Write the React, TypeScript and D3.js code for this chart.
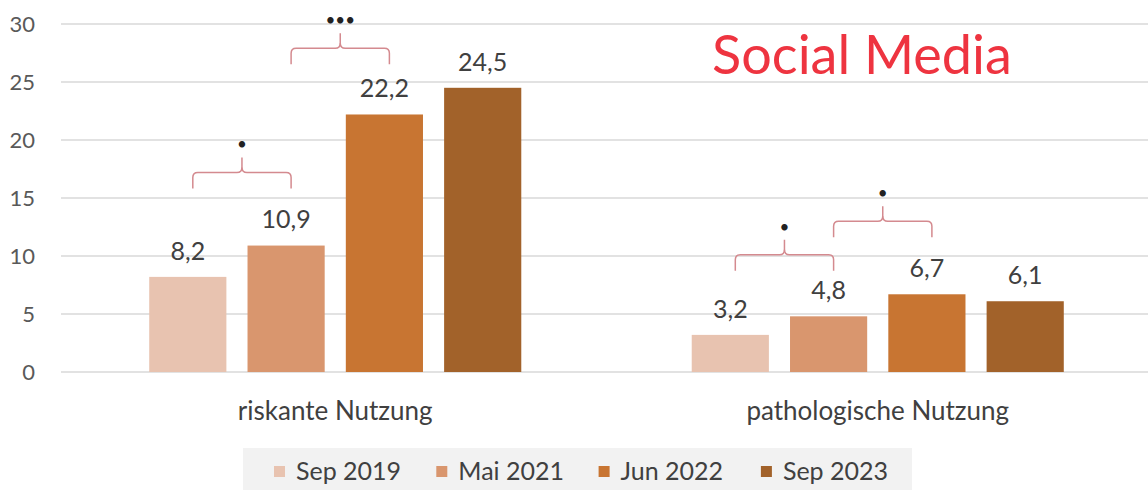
import React from "react";
import * as d3 from "d3";

const categories = ["riskante Nutzung", "pathologische Nutzung"];
const seriesNames = ["Sep 2019", "Mai 2021", "Jun 2022", "Sep 2023"];
const seriesColors = ["#E8C3B0", "#D9966E", "#C87532", "#A2622A"];
const values = [
  [8.2, 10.9, 22.2, 24.5],
  [3.2, 4.8, 6.7, 6.1],
];
const valueLabels = [
  ["8,2", "10,9", "22,2", "24,5"],
  ["3,2", "4,8", "6,7", "6,1"],
];
const yTicks = [0, 5, 10, 15, 20, 25, 30];
// significance brackets: category index, from series, to series, level (value units), label
const brackets = [
  { cat: 0, from: 0, to: 1, level: 17.2, label: "•" },
  { cat: 0, from: 1, to: 2, level: 27.9, label: "•••" },
  { cat: 1, from: 0, to: 1, level: 10.1, label: "•" },
  { cat: 1, from: 1, to: 2, level: 13.0, label: "•" },
];

const W = 1148;
const H = 490;
const FONT = "Lato, 'Open Sans', sans-serif";

export default function App() {
  const y = d3.scaleLinear().domain([0, 30]).range([372, 24]);
  const x0 = d3.scaleBand<string>().domain(categories).range([64, 1149]).paddingInner(0).paddingOuter(0);
  const x1 = d3
    .scaleBand<string>()
    .domain(seriesNames)
    .range([0, x0.bandwidth()])
    .paddingInner(0.215)
    .paddingOuter(0.867);

  const r = 5;
  return (
    <svg
      width={W}
      height={H}
      style={{ position: "absolute", left: 0, top: 0, background: "#fff" }}
      fontFamily={FONT}
    >
      {/* gridlines */}
      {yTicks.map((t) => (
        <g key={t}>
          <line x1={61} x2={1148} y1={y(t)} y2={y(t)} stroke="#d9d9d9" strokeWidth={1.5} />
          <text x={35} y={y(t)} dy="0.35em" textAnchor="end" fontSize={22} fill="#595959">
            {t}
          </text>
        </g>
      ))}

      {/* bars */}
      {categories.map((c, ci) => (
        <g key={c} transform={`translate(${x0(c)},0)`}>
          {seriesNames.map((s, si) => {
            const v = values[ci][si];
            const bx = x1(s)!;
            return (
              <g key={s}>
                <rect
                  x={bx}
                  y={y(v)}
                  width={x1.bandwidth()}
                  height={y(0) - y(v)}
                  fill={seriesColors[si]}
                />
                <text
                  x={bx + x1.bandwidth() / 2}
                  y={y(v) - 26}
                  dy="0.35em"
                  textAnchor="middle"
                  fontSize={25}
                  fill="#404040"
                >
                  {valueLabels[ci][si]}
                </text>
              </g>
            );
          })}
          <text
            x={x0.bandwidth() / 2}
            y={411}
            dy="0.35em"
            textAnchor="middle"
            fontSize={26}
            fill="#404040"
          >
            {c}
          </text>
        </g>
      ))}

      {/* brackets */}
      {brackets.map((b, i) => {
        const base = x0(categories[b.cat])!;
        const xa = base + x1(seriesNames[b.from])! + x1.bandwidth() / 2 + 5;
        const xb = base + x1(seriesNames[b.to])! + x1.bandwidth() / 2 + 5;
        const cx = (xa + xb) / 2;
        const hy = y(b.level);
        const endY = hy + 16;
        const tipY = hy - 15;
        const left = `M${xa},${endY} V${hy + r} Q${xa},${hy} ${xa + r},${hy} H${cx - r} Q${cx},${hy} ${cx},${hy - r} V${tipY}`;
        const right = `M${xb},${endY} V${hy + r} Q${xb},${hy} ${xb - r},${hy} H${cx + r} Q${cx},${hy} ${cx},${hy - r}`;
        return (
          <g key={i}>
            <path d={left} fill="none" stroke="#D48A8F" strokeWidth={1.5} />
            <path d={right} fill="none" stroke="#D48A8F" strokeWidth={1.5} />
            <text x={cx} y={tipY - 13} dy="0.35em" textAnchor="middle" fontSize={17} fill="#222">
              {b.label}
            </text>
          </g>
        );
      })}

      {/* title */}
      <text x={862} y={55} dy="0.35em" textAnchor="middle" fontSize={54} fill="#EE3440">
        Social Media
      </text>

      {/* legend */}
      <rect x={243} y={448} width={669} height={42} fill="#f2f2f2" />
      {seriesNames.map((s, i) => {
        const lx = 274 + i * 162.3;
        return (
          <g key={s}>
            <rect x={lx} y={466} width={11} height={11} fill={seriesColors[i]} />
            <text x={lx + 22} y={471} dy="0.35em" fontSize={25} fill="#404040">
              {s}
            </text>
          </g>
        );
      })}
    </svg>
  );
}
